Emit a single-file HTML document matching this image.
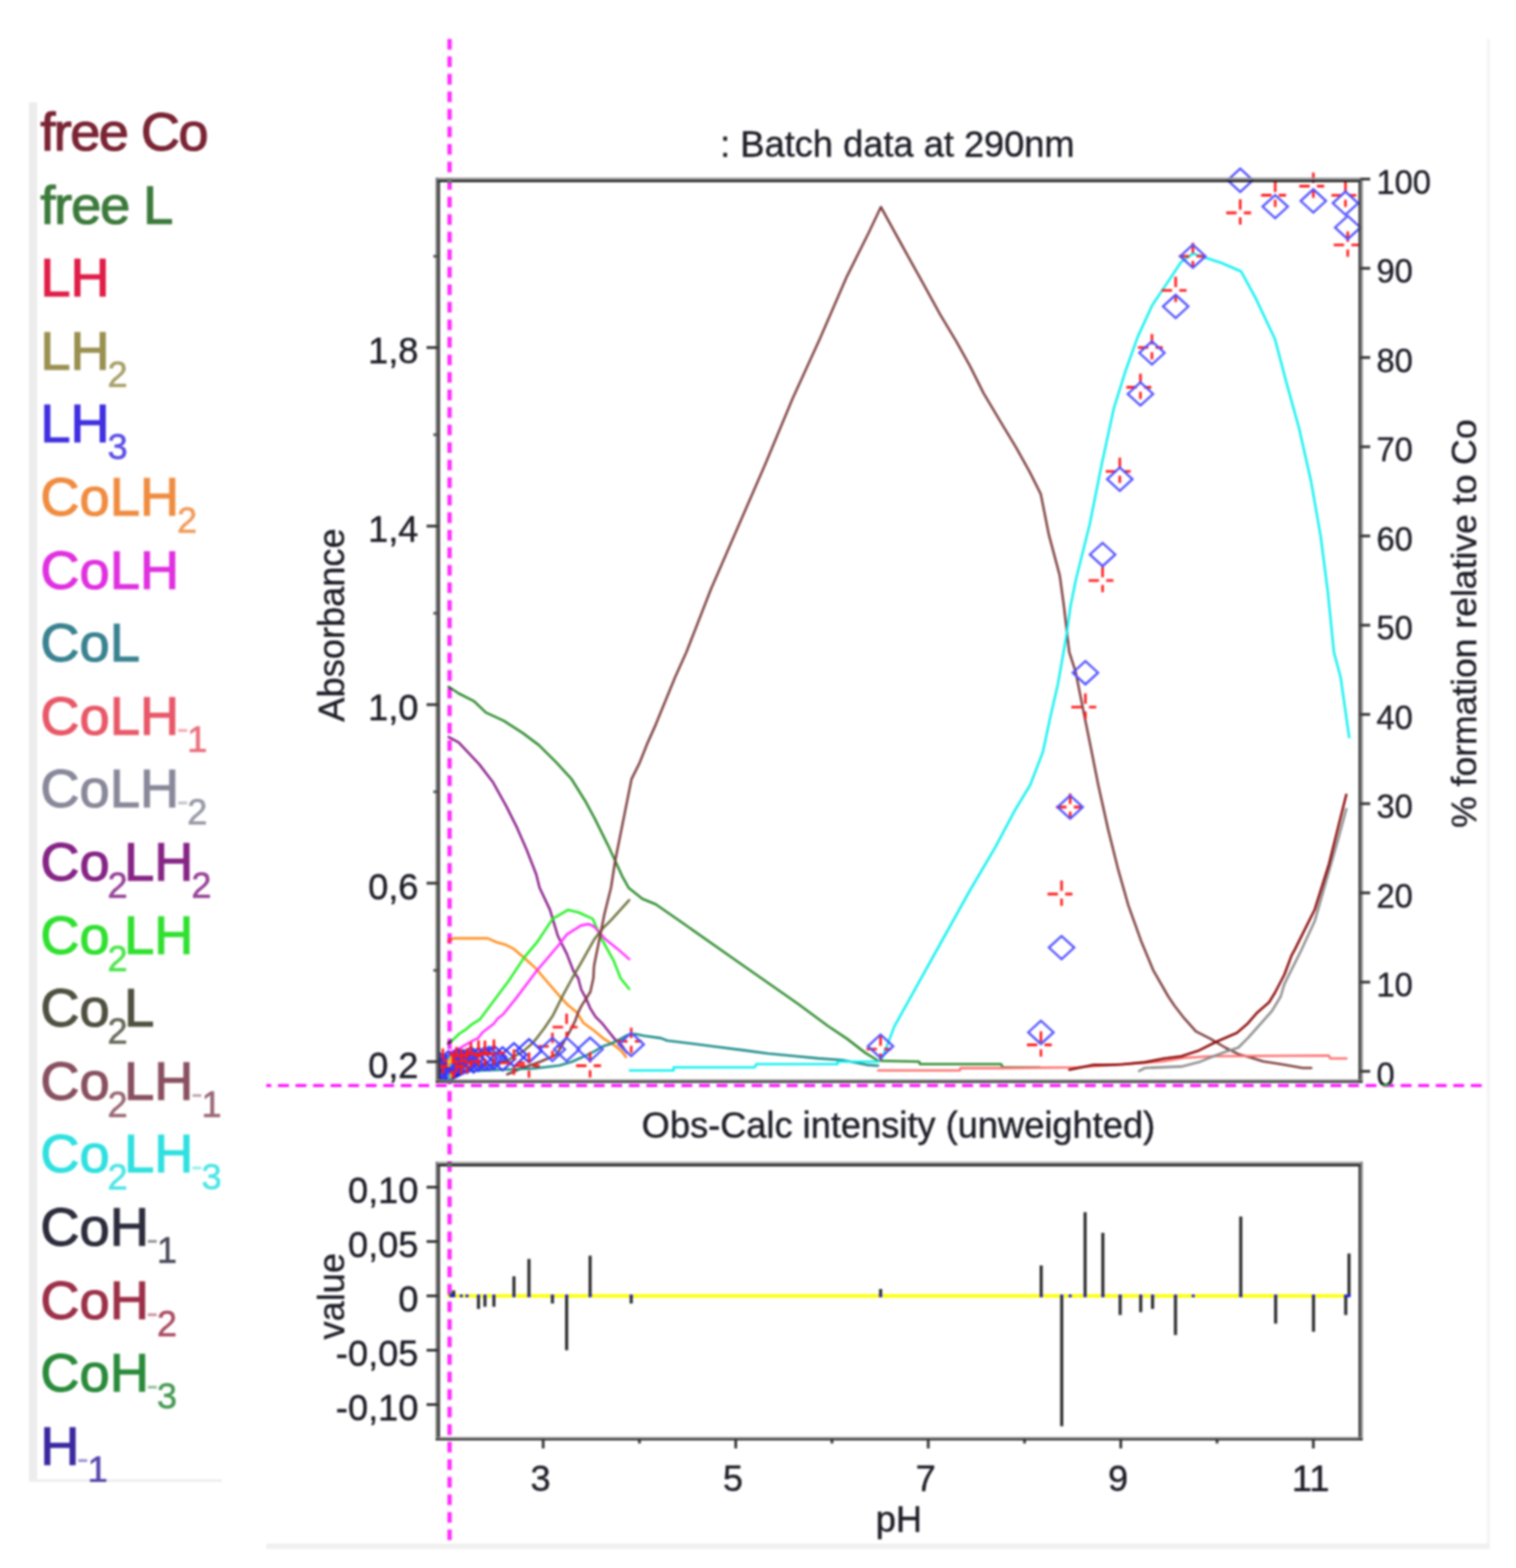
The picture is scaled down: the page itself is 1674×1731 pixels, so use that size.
<!DOCTYPE html>
<html><head><meta charset="utf-8"><title>Batch data at 290nm</title>
<style>html,body{margin:0;padding:0;background:#fff;}body{width:1674px;height:1731px;overflow:hidden;}svg{display:block;filter:blur(0.8px);}text{font-family:"Liberation Sans", Arial, sans-serif;}</style>
</head><body>
<svg width="1674" height="1731" viewBox="0 0 1674 1731">
<rect width="100%" height="100%" fill="#fff"/>
<rect x="1642" y="43" width="3" height="1667" fill="#f3f3f3"/>
<rect x="294" y="1704" width="1351" height="6" fill="#f0f0f0"/>
<defs><clipPath id="legclip"><rect x="32" y="113" width="213" height="1523"/></clipPath></defs>
<rect x="32" y="113" width="9" height="1523" fill="#ececec"/>
<rect x="32" y="1633" width="213" height="3" fill="#eeeeee"/>
<g clip-path="url(#legclip)">
<text x="44.5" y="166.0" fill="#7a2434" stroke="#7a2434" letter-spacing="-1.8"><tspan font-size="60" dy="0" stroke-width="1.2">free Co</tspan></text>
<text x="44.5" y="246.6" fill="#3c7a3c" stroke="#3c7a3c" letter-spacing="-1.3"><tspan font-size="60" dy="0" stroke-width="1.2">free L</tspan></text>
<text x="44.5" y="327.2" fill="#e01e48" stroke="#e01e48"><tspan font-size="60" dy="0" stroke-width="1.2">LH</tspan></text>
<text x="44.5" y="407.8" fill="#9a9050" stroke="#9a9050"><tspan font-size="60" dy="0" stroke-width="1.2">LH</tspan><tspan font-size="40" dy="19" dx="-2.5" fill-opacity="0.85" stroke-width="0.5">2</tspan></text>
<text x="44.5" y="488.4" fill="#4030e0" stroke="#4030e0"><tspan font-size="60" dy="0" stroke-width="1.2">LH</tspan><tspan font-size="40" dy="19" dx="-2.5" fill-opacity="0.85" stroke-width="0.5">3</tspan></text>
<text x="44.5" y="569.0" fill="#f08c40" stroke="#f08c40"><tspan font-size="60" dy="0" stroke-width="1.2">CoLH</tspan><tspan font-size="40" dy="19" dx="-2.5" fill-opacity="0.85" stroke-width="0.5">2</tspan></text>
<text x="44.5" y="649.6" fill="#e030e0" stroke="#e030e0"><tspan font-size="60" dy="0" stroke-width="1.2">CoLH</tspan></text>
<text x="44.5" y="730.2" fill="#3a8290" stroke="#3a8290"><tspan font-size="60" dy="0" stroke-width="1.2">CoL</tspan></text>
<text x="44.5" y="810.8" fill="#e85868" stroke="#e85868"><tspan font-size="60" dy="0" stroke-width="1.2">CoLH</tspan><tspan font-size="40" dy="6" dx="-3" fill-opacity="0.5" stroke-width="0">-</tspan><tspan font-size="40" dy="13" dx="-1.5" fill-opacity="0.85" stroke-width="0.5">1</tspan></text>
<text x="44.5" y="891.4" fill="#88889a" stroke="#88889a"><tspan font-size="60" dy="0" stroke-width="1.2">CoLH</tspan><tspan font-size="40" dy="6" dx="-3" fill-opacity="0.5" stroke-width="0">-</tspan><tspan font-size="40" dy="13" dx="-1.5" fill-opacity="0.85" stroke-width="0.5">2</tspan></text>
<text x="44.5" y="972.0" fill="#862486" stroke="#862486"><tspan font-size="60" dy="0" stroke-width="1.2">Co</tspan><tspan font-size="40" dy="19" dx="-2.5" fill-opacity="0.85" stroke-width="0.5">2</tspan><tspan font-size="60" dy="-19" dx="-4" stroke-width="1.2">LH</tspan><tspan font-size="40" dy="19" dx="-2.5" fill-opacity="0.85" stroke-width="0.5">2</tspan></text>
<text x="44.5" y="1052.6" fill="#30e030" stroke="#30e030"><tspan font-size="60" dy="0" stroke-width="1.2">Co</tspan><tspan font-size="40" dy="19" dx="-2.5" fill-opacity="0.85" stroke-width="0.5">2</tspan><tspan font-size="60" dy="-19" dx="-4" stroke-width="1.2">LH</tspan></text>
<text x="44.5" y="1133.2" fill="#505040" stroke="#505040"><tspan font-size="60" dy="0" stroke-width="1.2">Co</tspan><tspan font-size="40" dy="19" dx="-2.5" fill-opacity="0.85" stroke-width="0.5">2</tspan><tspan font-size="60" dy="-19" dx="-4" stroke-width="1.2">L</tspan></text>
<text x="44.5" y="1213.8" fill="#885060" stroke="#885060"><tspan font-size="60" dy="0" stroke-width="1.2">Co</tspan><tspan font-size="40" dy="19" dx="-2.5" fill-opacity="0.85" stroke-width="0.5">2</tspan><tspan font-size="60" dy="-19" dx="-4" stroke-width="1.2">LH</tspan><tspan font-size="40" dy="6" dx="-3" fill-opacity="0.5" stroke-width="0">-</tspan><tspan font-size="40" dy="13" dx="-1.5" fill-opacity="0.85" stroke-width="0.5">1</tspan></text>
<text x="44.5" y="1294.4" fill="#30e0e0" stroke="#30e0e0"><tspan font-size="60" dy="0" stroke-width="1.2">Co</tspan><tspan font-size="40" dy="19" dx="-2.5" fill-opacity="0.85" stroke-width="0.5">2</tspan><tspan font-size="60" dy="-19" dx="-4" stroke-width="1.2">LH</tspan><tspan font-size="40" dy="6" dx="-3" fill-opacity="0.5" stroke-width="0">-</tspan><tspan font-size="40" dy="13" dx="-1.5" fill-opacity="0.85" stroke-width="0.5">3</tspan></text>
<text x="44.5" y="1375.0" fill="#2c2c3c" stroke="#2c2c3c"><tspan font-size="60" dy="0" stroke-width="1.2">CoH</tspan><tspan font-size="40" dy="6" dx="-3" fill-opacity="0.5" stroke-width="0">-</tspan><tspan font-size="40" dy="13" dx="-1.5" fill-opacity="0.85" stroke-width="0.5">1</tspan></text>
<text x="44.5" y="1455.6" fill="#9c3048" stroke="#9c3048"><tspan font-size="60" dy="0" stroke-width="1.2">CoH</tspan><tspan font-size="40" dy="6" dx="-3" fill-opacity="0.5" stroke-width="0">-</tspan><tspan font-size="40" dy="13" dx="-1.5" fill-opacity="0.85" stroke-width="0.5">2</tspan></text>
<text x="44.5" y="1536.2" fill="#2a8a3a" stroke="#2a8a3a"><tspan font-size="60" dy="0" stroke-width="1.2">CoH</tspan><tspan font-size="40" dy="6" dx="-3" fill-opacity="0.5" stroke-width="0">-</tspan><tspan font-size="40" dy="13" dx="-1.5" fill-opacity="0.85" stroke-width="0.5">3</tspan></text>
<text x="44.5" y="1616.8" fill="#3a28a0" stroke="#3a28a0"><tspan font-size="60" dy="0" stroke-width="1.2">H</tspan><tspan font-size="40" dy="6" dx="-3" fill-opacity="0.5" stroke-width="0">-</tspan><tspan font-size="40" dy="13" dx="-1.5" fill-opacity="0.85" stroke-width="0.5">1</tspan></text>
</g>
<defs><clipPath id="plotclip"><rect x="485.6" y="150" width="1030" height="1042.5"/></clipPath></defs>
<g clip-path="url(#plotclip)">
<g fill="none" stroke-width="2.6" stroke-linejoin="round" stroke-linecap="round">
<polyline stroke="#2c8a2c" points="495.3,758.0 506.5,765.5 523.0,773.8 536.6,786.6 556.1,795.6 577.1,809.1 595.1,822.6 614.7,842.1 631.2,860.2 646.2,884.2 656.7,903.7 671.7,933.8 679.3,950.3 686.8,966.8 694.3,980.3 709.3,992.3 724.0,998.3 755.0,1019.8 818.3,1064.2 881.6,1108.5 914.0,1132.5 935.5,1146.9 955.2,1162.1 969.6,1171.0 1015.0,1172.0 1015.8,1174.7 1105.4,1174.7 1107.2,1178.2 1147.6,1178.2"/>
<polyline stroke="#8a1e8a" points="495.3,813.6 506.5,819.6 529.1,843.6 544.1,863.2 559.1,890.2 571.1,914.2 581.6,938.3 592.1,965.3 595.8,980.0 607.3,1004.4 615.9,1033.0 625.9,1053.1 633.1,1071.8 638.5,1080.0 641.8,1092.5 647.7,1103.4 651.9,1113.4 657.7,1122.6 665.3,1130.2 671.9,1138.5 678.6,1146.9 686.2,1153.6 692.0,1161.9"/>
<polyline stroke="#ff8c1a" points="494.8,1038.8 501.2,1035.9 538.5,1035.9 548.5,1040.2 558.6,1043.1 567.2,1047.4 577.2,1056.0 591.5,1068.9 600.9,1080.0 616.8,1098.4 626.8,1109.3 636.8,1117.6 644.3,1129.3 656.9,1138.5 666.9,1146.9 677.8,1153.6 686.2,1160.3 691.2,1167.0"/>
<polyline stroke="#22f022" points="494.5,1152.0 498.8,1149.4 506.7,1141.5 515.3,1135.8 521.0,1130.8 529.6,1125.7 533.9,1120.0 544.2,1106.2 561.4,1083.2 578.6,1057.4 593.0,1040.2 610.2,1014.4 627.4,1004.4 638.8,1007.2 654.6,1014.4 663.2,1034.5 677.5,1060.3 685.3,1080.0 694.8,1091.8"/>
<polyline stroke="#ff30ff" points="494.5,1162.0 496.6,1161.6 505.2,1158.7 513.8,1153.7 522.4,1148.7 528.2,1145.8 532.5,1140.1 538.9,1135.1 545.4,1130.0 549.7,1124.3 555.4,1120.0 570.0,1101.9 591.5,1073.2 615.9,1044.5 625.9,1031.6 641.7,1021.6 650.3,1020.1 656.0,1023.0 669.0,1037.3 681.8,1047.4 694.8,1058.9"/>
<polyline stroke="#6e6e3c" points="494.5,1179.0 520.0,1177.5 541.1,1175.2 556.9,1171.6 564.0,1168.7 571.2,1164.4 578.4,1160.1 585.5,1153.7 590.0,1149.4 593.3,1145.2 600.9,1135.2 610.1,1121.8 615.1,1111.8 621.8,1098.4 631.8,1080.0 643.1,1060.3 656.0,1037.3 666.1,1024.4 674.7,1015.8 694.8,993.6"/>
<polyline stroke="#7e3e3e" points="560.0,1186.0 566.9,1183.2 574.0,1180.0 590.0,1174.5 596.7,1172.0 606.7,1167.8 615.1,1163.6 621.8,1151.9 626.0,1144.4 630.1,1136.9 635.2,1126.8 638.5,1117.6 641.8,1110.9 651.9,1095.0 655.2,1080.0 656.0,1066.0 661.8,1037.3 667.5,1008.7 671.8,991.5 674.7,980.0 679.3,950.3 685.3,920.2 691.3,890.2 697.3,860.2 706.3,842.1 715.3,819.6 724.0,800.1 745.5,747.5 758.0,719.8 785.0,650.5 815.0,581.4 845.1,512.3 875.1,440.2 905.2,374.2 935.2,305.1 959.2,257.0 972.7,228.5 990.0,260.0 1005.0,287.1 1020.0,314.1 1038.1,347.1 1056.1,377.2 1071.1,404.2 1086.1,434.2 1104.1,464.3 1122.2,494.3 1137.2,521.3 1149.2,545.3 1158.2,590.4 1170.2,635.4 1174.7,668.5 1180.7,719.8 1187.7,741.6 1196.0,783.2 1204.4,824.8 1212.7,866.4 1223.8,916.4 1234.9,960.7 1246.0,999.6 1259.9,1038.4 1273.7,1071.7 1290.0,1100.0 1296.5,1109.7 1307.7,1124.2 1320.6,1138.7 1336.8,1146.8 1352.9,1156.5 1367.4,1163.7 1382.0,1167.7 1394.8,1171.8 1415.8,1175.0 1438.4,1179.0 1448.0,1179.0"/>
<polyline stroke="#1a8a8a" points="494.5,1183.5 540.0,1181.5 590.0,1179.5 617.6,1176.2 631.8,1172.0 646.9,1165.3 656.9,1160.3 665.3,1155.3 675.3,1151.9 685.3,1146.9 692.8,1142.7 701.7,1141.6 711.2,1143.5 730.0,1146.1 736.6,1148.7 765.3,1152.3 792.2,1155.8 820.8,1159.4 847.7,1163.0 876.4,1165.7 903.3,1168.4 930.1,1170.2 957.0,1175.6 969.6,1176.5"/>
<polyline stroke="#10f0f0" points="695.4,1181.8 743.8,1181.8 743.8,1178.2 833.4,1178.2 835.2,1174.7 924.8,1174.7 924.8,1172.0 969.6,1172.0 973.9,1168.9 987.7,1132.9 1015.5,1082.9 1043.2,1033.0 1071.0,983.0 1098.7,935.8 1120.9,894.2 1137.6,866.5 1151.5,830.4 1159.8,791.6 1168.1,755.5 1175.0,716.6 1177.8,700.0 1182.2,668.5 1188.0,640.0 1203.3,578.7 1216.6,512.3 1229.8,451.2 1243.1,408.7 1256.4,371.6 1272.3,337.0 1288.3,313.1 1304.2,289.2 1317.5,279.9 1333.4,285.2 1349.4,290.5 1370.6,299.8 1386.5,329.1 1407.8,374.2 1421.1,424.7 1434.4,472.5 1447.6,530.9 1458.3,592.0 1466.2,653.1 1472.9,719.8 1480.3,747.5 1489.8,814.0"/>
<polyline stroke="#ff7070" points="969.6,1181.8 1059.7,1181.8 1060.6,1179.1 1105.4,1179.1 1189.7,1178.2 1283.5,1171.8 1307.7,1167.7 1340.0,1166.0 1467.4,1165.3 1469.0,1168.5 1486.8,1168.5"/>
<polyline stroke="#8c8c8c" points="1257.7,1182.3 1264.2,1179.0 1304.5,1177.4 1323.9,1172.6 1340.0,1166.0 1352.9,1161.3 1367.4,1156.5 1378.7,1145.2 1391.6,1130.6 1404.5,1116.1 1414.2,1100.0 1418.2,1086.4 1436.4,1050.0 1451.8,1016.7 1477.2,928.0 1486.6,893.2"/>
<polyline stroke="#8c0a0a" points="1180.7,1181.0 1207.6,1175.6 1225.5,1175.6 1240.0,1175.0 1264.2,1172.6 1285.2,1168.5 1304.5,1166.0 1323.9,1159.7 1343.2,1150.0 1365.8,1140.3 1377.1,1130.6 1388.4,1117.7 1401.3,1106.5 1407.8,1096.0 1418.2,1076.0 1426.0,1055.2 1429.7,1048.3 1451.8,1004.0 1467.6,953.3 1486.6,877.3"/>
</g>
<g stroke="#ff1a1a" stroke-width="2.8">
<path d="M610.0 1140.1V1151.6M610.0 1160.1V1168.1M594.5 1155.1H606.0M614.0 1155.1H622.0"/>
<path d="M625.7 1118.9V1130.4M625.7 1138.9V1146.9M610.2 1133.9H621.7M629.7 1133.9H637.7"/>
<path d="M651.6 1161.5V1173.0M651.6 1181.5V1189.5M636.1 1176.5H647.6M655.6 1176.5H663.6"/>
<path d="M697.0 1134.6V1146.1M697.0 1154.6V1162.6M681.5 1149.6H693.0M701.0 1149.6H709.0"/>
<path d="M972.3 1143.1V1154.6M972.3 1163.1V1171.1M956.8 1158.1H968.3M976.3 1158.1H984.3"/>
<path d="M1149.4 1138.5V1150.0M1149.4 1158.5V1166.5M1133.9 1153.5H1145.4M1153.4 1153.5H1161.4"/>
<path d="M1172.2 972.0V983.5M1172.2 992.0V1000.0M1156.7 987.0H1168.2M1176.2 987.0H1184.2"/>
<path d="M1181.7 876.0V887.5M1181.7 896.0V904.0M1166.2 891.0H1177.7M1185.7 891.0H1193.7"/>
<path d="M1198.5 765.6V777.1M1198.5 785.6V793.6M1183.0 780.6H1194.5M1202.5 780.6H1210.5"/>
<path d="M1217.5 625.8V637.3M1217.5 645.8V653.8M1202.0 640.8H1213.5M1221.5 640.8H1229.5"/>
<path d="M1236.5 505.3V516.8M1236.5 525.3V533.3M1221.0 520.3H1232.5M1240.5 520.3H1248.5"/>
<path d="M1259.3 412.5V424.0M1259.3 432.5V440.5M1243.8 427.5H1255.3M1263.3 427.5H1271.3"/>
<path d="M1272.0 368.7V380.2M1272.0 388.7V396.7M1256.5 383.7H1268.0M1276.0 383.7H1284.0"/>
<path d="M1298.2 305.6V317.1M1298.2 325.6V333.6M1282.7 320.6H1294.2M1302.2 320.6H1310.2"/>
<path d="M1317.2 267.9V279.4M1317.2 287.9V295.9M1301.7 282.9H1313.2M1321.2 282.9H1329.2"/>
<path d="M1369.5 220.0V231.5M1369.5 240.0V248.0M1354.0 235.0H1365.5M1373.5 235.0H1381.5"/>
<path d="M1408.1 200.5V212.0M1408.1 220.5V228.5M1392.6 215.5H1404.1M1412.1 215.5H1420.1"/>
<path d="M1450.2 190.5V202.0M1450.2 210.5V218.5M1434.7 205.5H1446.2M1454.2 205.5H1462.2"/>
<path d="M1485.7 200.6V212.1M1485.7 220.6V228.6M1470.2 215.6H1481.7M1489.7 215.6H1497.7"/>
<path d="M1488.2 255.4V266.9M1488.2 275.4V283.4M1472.7 270.4H1484.2M1492.2 270.4H1500.2"/>
</g>
<g fill="none" stroke="#5050ff" stroke-width="2.4">
<path d="M610.0 1145.7L624.0 1158.5L610.0 1171.3L596.0 1158.5Z"/>
<path d="M625.7 1145.7L639.7 1158.5L625.7 1171.3L611.7 1158.5Z"/>
<path d="M651.6 1145.5L665.6 1158.3L651.6 1171.1L637.6 1158.3Z"/>
<path d="M697.0 1140.2L711.0 1153.0L697.0 1165.8L683.0 1153.0Z"/>
<path d="M972.3 1142.2L986.3 1155.0L972.3 1167.8L958.3 1155.0Z"/>
<path d="M1149.4 1126.9L1163.4 1139.7L1149.4 1152.5L1135.4 1139.7Z"/>
<path d="M1172.2 1033.3L1186.2 1046.1L1172.2 1058.9L1158.2 1046.1Z"/>
<path d="M1181.7 878.2L1195.7 891.0L1181.7 903.8L1167.7 891.0Z"/>
<path d="M1198.5 729.9L1212.5 742.7L1198.5 755.5L1184.5 742.7Z"/>
<path d="M1217.5 599.4L1231.5 612.2L1217.5 625.0L1203.5 612.2Z"/>
<path d="M1236.5 516.2L1250.5 529.0L1236.5 541.8L1222.5 529.0Z"/>
<path d="M1259.3 422.1L1273.3 434.9L1259.3 447.7L1245.3 434.9Z"/>
<path d="M1272.0 376.8L1286.0 389.6L1272.0 402.4L1258.0 389.6Z"/>
<path d="M1298.2 325.5L1312.2 338.3L1298.2 351.1L1284.2 338.3Z"/>
<path d="M1317.2 270.1L1331.2 282.9L1317.2 295.7L1303.2 282.9Z"/>
<path d="M1369.5 186.2L1383.5 199.0L1369.5 211.8L1355.5 199.0Z"/>
<path d="M1408.1 215.3L1422.1 228.1L1408.1 240.9L1394.1 228.1Z"/>
<path d="M1450.2 209.0L1464.2 221.8L1450.2 234.6L1436.2 221.8Z"/>
<path d="M1485.7 211.5L1499.7 224.3L1485.7 237.1L1471.7 224.3Z"/>
<path d="M1488.2 238.4L1502.2 251.2L1488.2 264.0L1474.2 251.2Z"/>
</g>
<path d="M484 1168 L500 1163 L512 1166 L512 1186 L500 1192 L484 1192 Z" fill="#1a1ad8"/>
<g fill="none" stroke="#3a3aff" stroke-width="2.4">
<path d="M486.0 1163.0L500.0 1175.8L486.0 1188.6L472.0 1175.8Z"/>
<path d="M489.0 1164.7L503.0 1177.5L489.0 1190.3L475.0 1177.5Z"/>
<path d="M492.0 1163.8L506.0 1176.6L492.0 1189.4L478.0 1176.6Z"/>
<path d="M495.0 1160.7L509.0 1173.5L495.0 1186.3L481.0 1173.5Z"/>
<path d="M498.0 1163.0L512.0 1175.8L498.0 1188.6L484.0 1175.8Z"/>
<path d="M501.0 1162.3L515.0 1175.1L501.0 1187.9L487.0 1175.1Z"/>
<path d="M504.0 1158.8L518.0 1171.6L504.0 1184.4L490.0 1171.6Z"/>
<path d="M506.0 1158.5L520.0 1171.3L506.0 1184.1L492.0 1171.3Z"/>
<path d="M509.4 1160.3L523.4 1173.1L509.4 1185.9L495.4 1173.1Z"/>
<path d="M512.0 1159.3L526.0 1172.1L512.0 1184.9L498.0 1172.1Z"/>
<path d="M515.7 1159.1L529.7 1171.9L515.7 1184.7L501.7 1171.9Z"/>
<path d="M520.0 1155.9L534.0 1168.7L520.0 1181.5L506.0 1168.7Z"/>
<path d="M523.0 1158.4L537.0 1171.2L523.0 1184.0L509.0 1171.2Z"/>
<path d="M528.4 1156.7L542.4 1169.5L528.4 1182.3L514.4 1169.5Z"/>
<path d="M535.5 1155.8L549.5 1168.6L535.5 1181.4L521.5 1168.6Z"/>
<path d="M540.0 1155.7L554.0 1168.5L540.0 1181.3L526.0 1168.5Z"/>
<path d="M545.4 1154.5L559.4 1167.3L545.4 1180.1L531.4 1167.3Z"/>
<path d="M555.0 1156.1L569.0 1168.9L555.0 1181.7L541.0 1168.9Z"/>
<path d="M567.5 1151.7L581.5 1164.5L567.5 1177.3L553.5 1164.5Z"/>
<path d="M584.1 1147.2L598.1 1160.0L584.1 1172.8L570.1 1160.0Z"/>
</g>
<g stroke="#ff1a1a" stroke-width="2.8">
<path d="M498.0 1162.2V1173.7M498.0 1182.2V1190.2M482.5 1177.2H494.0M502.0 1177.2H510.0"/>
<path d="M501.0 1162.0V1173.5M501.0 1182.0V1190.0M485.5 1177.0H497.0M505.0 1177.0H513.0"/>
<path d="M509.4 1158.1V1169.6M509.4 1178.1V1186.1M493.9 1173.1H505.4M513.4 1173.1H521.4"/>
<path d="M515.7 1156.9V1168.4M515.7 1176.9V1184.9M500.2 1171.9H511.7M519.7 1171.9H527.7"/>
<path d="M528.4 1148.6V1160.1M528.4 1168.6V1176.6M512.9 1163.6H524.4M532.4 1163.6H540.4"/>
<path d="M535.5 1148.7V1160.2M535.5 1168.7V1176.7M520.0 1163.7H531.5M539.5 1163.7H547.5"/>
<path d="M545.4 1147.4V1158.9M545.4 1167.4V1175.4M529.9 1162.4H541.4M549.4 1162.4H557.4"/>
<path d="M567.5 1158.4V1169.9M567.5 1178.4V1186.4M552.0 1173.4H563.5M571.5 1173.4H579.5"/>
<path d="M584.1 1161.7V1173.2M584.1 1181.7V1189.7M568.6 1176.7H580.1M588.1 1176.7H596.1"/>
<path d="M489.0 1157.5V1169.0M489.0 1177.5V1185.5M473.5 1172.5H485.0M493.0 1172.5H501.0"/>
<path d="M504.0 1155.8V1167.3M504.0 1175.8V1183.8M488.5 1170.8H500.0M508.0 1170.8H516.0"/>
<path d="M520.0 1150.5V1162.0M520.0 1170.5V1178.5M504.5 1165.5H516.0M524.0 1165.5H532.0"/>
</g>
</g>
<line x1="494" y1="1430.6" x2="1489" y2="1430.6" stroke="#ffff00" stroke-width="3.6"/>
<g stroke="#2a2a2a" stroke-width="3.4">
<line x1="498" y1="1430.6" x2="498" y2="1427.0"/>
<line x1="501" y1="1430.6" x2="501" y2="1424.6"/>
<line x1="528.4" y1="1430.6" x2="528.4" y2="1445.0"/>
<line x1="535.5" y1="1430.6" x2="535.5" y2="1442.6"/>
<line x1="545.4" y1="1430.6" x2="545.4" y2="1442.6"/>
<line x1="567.5" y1="1430.6" x2="567.5" y2="1409.0"/>
<line x1="584.1" y1="1430.6" x2="584.1" y2="1389.8"/>
<line x1="610" y1="1430.6" x2="610" y2="1439.0"/>
<line x1="625.7" y1="1430.6" x2="625.7" y2="1490.6"/>
<line x1="651.6" y1="1430.6" x2="651.6" y2="1386.2"/>
<line x1="697" y1="1430.6" x2="697" y2="1439.0"/>
<line x1="972.4" y1="1430.6" x2="972.4" y2="1423.0"/>
<line x1="1149.7" y1="1430.6" x2="1149.7" y2="1397.0"/>
<line x1="1172.4" y1="1430.6" x2="1172.4" y2="1574.6"/>
<line x1="1198.2" y1="1430.6" x2="1198.2" y2="1338.2"/>
<line x1="1217.8" y1="1430.6" x2="1217.8" y2="1361.0"/>
<line x1="1236.9" y1="1430.6" x2="1236.9" y2="1451.7"/>
<line x1="1259.6" y1="1430.6" x2="1259.6" y2="1448.6"/>
<line x1="1272.7" y1="1430.6" x2="1272.7" y2="1445.0"/>
<line x1="1298" y1="1430.6" x2="1298" y2="1473.8"/>
<line x1="1370.1" y1="1430.6" x2="1370.1" y2="1343.0"/>
<line x1="1408.6" y1="1430.6" x2="1408.6" y2="1461.2"/>
<line x1="1450.4" y1="1430.6" x2="1450.4" y2="1470.2"/>
<line x1="1486" y1="1430.6" x2="1486" y2="1451.7"/>
<line x1="1489.6" y1="1430.6" x2="1489.6" y2="1383.8"/>
</g>
<g fill="#1010ff">
<rect x="496.4" y="1429.1" width="3.2" height="3"/>
<rect x="499.4" y="1429.1" width="3.2" height="3"/>
<rect x="507.8" y="1429.1" width="3.2" height="3"/>
<rect x="514.1" y="1429.1" width="3.2" height="3"/>
<rect x="526.8" y="1429.1" width="3.2" height="3"/>
<rect x="533.9" y="1429.1" width="3.2" height="3"/>
<rect x="543.8" y="1429.1" width="3.2" height="3"/>
<rect x="565.9" y="1429.1" width="3.2" height="3"/>
<rect x="582.5" y="1429.1" width="3.2" height="3"/>
<rect x="608.4" y="1429.1" width="3.2" height="3"/>
<rect x="624.1" y="1429.1" width="3.2" height="3"/>
<rect x="650.0" y="1429.1" width="3.2" height="3"/>
<rect x="695.4" y="1429.1" width="3.2" height="3"/>
<rect x="970.8" y="1429.1" width="3.2" height="3"/>
<rect x="1148.1" y="1429.1" width="3.2" height="3"/>
<rect x="1170.8" y="1429.1" width="3.2" height="3"/>
<rect x="1180.1" y="1429.1" width="3.2" height="3"/>
<rect x="1196.6" y="1429.1" width="3.2" height="3"/>
<rect x="1216.2" y="1429.1" width="3.2" height="3"/>
<rect x="1235.3" y="1429.1" width="3.2" height="3"/>
<rect x="1258.0" y="1429.1" width="3.2" height="3"/>
<rect x="1271.1" y="1429.1" width="3.2" height="3"/>
<rect x="1296.4" y="1429.1" width="3.2" height="3"/>
<rect x="1316.0" y="1429.1" width="3.2" height="3"/>
<rect x="1368.5" y="1429.1" width="3.2" height="3"/>
<rect x="1407.0" y="1429.1" width="3.2" height="3"/>
<rect x="1448.8" y="1429.1" width="3.2" height="3"/>
<rect x="1484.4" y="1429.1" width="3.2" height="3"/>
<rect x="1488.0" y="1429.1" width="3.2" height="3"/>
</g>
<rect x="480.8" y="196.1" width="1024.2" height="1000.0" fill="none" stroke="#8a8a8a" stroke-width="0"/>
<rect x="481.0" y="196.1" width="1023.6" height="2.5" fill="#9a9a9a"/>
<rect x="481.0" y="196.1" width="2.4" height="999.2" fill="#7a7a7a"/>
<rect x="483.4" y="198.6" width="1019.0" height="2.5" fill="#1c1c1c"/>
<rect x="483.4" y="198.6" width="2.4" height="994.8" fill="#2e2e2e"/>
<rect x="1500.1" y="198.6" width="2.3" height="996.6" fill="#2e2e2e"/>
<rect x="1502.4" y="196.1" width="2.3" height="999.2" fill="#7a7a7a"/>
<rect x="481.0" y="1191.7" width="1023.7" height="1.8" fill="#8a8a8a"/>
<rect x="481.0" y="1193.5" width="1023.7" height="1.8" fill="#1c1c1c"/>
<rect x="480.8" y="1282.6" width="1024.2" height="308.3" fill="none" stroke="#8a8a8a" stroke-width="0"/>
<rect x="481.0" y="1282.6" width="1023.6" height="2.5" fill="#9a9a9a"/>
<rect x="481.0" y="1282.6" width="2.4" height="307.5" fill="#7a7a7a"/>
<rect x="483.4" y="1285.1" width="1019.0" height="2.5" fill="#1c1c1c"/>
<rect x="483.4" y="1285.1" width="2.4" height="303.1" fill="#2e2e2e"/>
<rect x="1500.1" y="1285.1" width="2.3" height="304.9" fill="#2e2e2e"/>
<rect x="1502.4" y="1282.6" width="2.3" height="307.5" fill="#7a7a7a"/>
<rect x="481.0" y="1586.5" width="1023.7" height="1.8" fill="#8a8a8a"/>
<rect x="481.0" y="1588.3" width="1023.7" height="1.8" fill="#1c1c1c"/>
<g stroke="#333" stroke-width="3">
<line x1="471" y1="383.7" x2="483.4" y2="383.7"/>
<line x1="471" y1="580.8" x2="483.4" y2="580.8"/>
<line x1="471" y1="777.9" x2="483.4" y2="777.9"/>
<line x1="471" y1="975.0" x2="483.4" y2="975.0"/>
<line x1="471" y1="1172.1" x2="483.4" y2="1172.1"/>
<line x1="478.5" y1="282.9" x2="483.4" y2="282.9" stroke="#505050"/>
<line x1="478.5" y1="479.9" x2="483.4" y2="479.9" stroke="#505050"/>
<line x1="478.5" y1="677.0" x2="483.4" y2="677.0" stroke="#505050"/>
<line x1="478.5" y1="874.1" x2="483.4" y2="874.1" stroke="#505050"/>
<line x1="478.5" y1="1071.2" x2="483.4" y2="1071.2" stroke="#505050"/>
<line x1="1502.4" y1="197.7" x2="1513" y2="197.7"/>
<line x1="1502.4" y1="296.2" x2="1513" y2="296.2"/>
<line x1="1502.4" y1="394.7" x2="1513" y2="394.7"/>
<line x1="1502.4" y1="493.2" x2="1513" y2="493.2"/>
<line x1="1502.4" y1="591.7" x2="1513" y2="591.7"/>
<line x1="1502.4" y1="690.2" x2="1513" y2="690.2"/>
<line x1="1502.4" y1="788.7" x2="1513" y2="788.7"/>
<line x1="1502.4" y1="887.2" x2="1513" y2="887.2"/>
<line x1="1502.4" y1="985.7" x2="1513" y2="985.7"/>
<line x1="1502.4" y1="1084.2" x2="1513" y2="1084.2"/>
<line x1="1502.4" y1="1182.7" x2="1513" y2="1182.7"/>
<line x1="471" y1="1310.6" x2="483.4" y2="1310.6"/>
<line x1="471" y1="1370.6" x2="483.4" y2="1370.6"/>
<line x1="471" y1="1430.6" x2="483.4" y2="1430.6"/>
<line x1="471" y1="1490.6" x2="483.4" y2="1490.6"/>
<line x1="471" y1="1550.6" x2="483.4" y2="1550.6"/>
<line x1="599.8" y1="1588.3" x2="599.8" y2="1599"/>
<line x1="812.4" y1="1588.3" x2="812.4" y2="1599"/>
<line x1="1025.0" y1="1588.3" x2="1025.0" y2="1599"/>
<line x1="1237.6" y1="1588.3" x2="1237.6" y2="1599"/>
<line x1="1450.2" y1="1588.3" x2="1450.2" y2="1599"/>
<line x1="706.1" y1="1588.3" x2="706.1" y2="1593.5"/>
<line x1="918.7" y1="1588.3" x2="918.7" y2="1593.5"/>
<line x1="1131.3" y1="1588.3" x2="1131.3" y2="1593.5"/>
<line x1="1343.9" y1="1588.3" x2="1343.9" y2="1593.5"/>
</g>
<g font-size="40" fill="#1e1e28" stroke="#1e1e28" stroke-width="0.45" text-anchor="end">
<text x="462" y="401.2">1,8</text>
<text x="462" y="598.3">1,4</text>
<text x="462" y="795.4">1,0</text>
<text x="462" y="992.5">0,6</text>
<text x="462" y="1189.6">0,2</text>
<text x="462" y="1328.1">0,10</text>
<text x="462" y="1388.1">0,05</text>
<text x="462" y="1448.1">0</text>
<text x="462" y="1508.1">-0,05</text>
<text x="462" y="1568.1">-0,10</text>
</g>
<g font-size="36" fill="#1e1e28" stroke="#1e1e28" stroke-width="0.4">
<text x="1520" y="213.7">100</text>
<text x="1520" y="312.2">90</text>
<text x="1520" y="410.7">80</text>
<text x="1520" y="509.2">70</text>
<text x="1520" y="607.7">60</text>
<text x="1520" y="706.2">50</text>
<text x="1520" y="804.7">40</text>
<text x="1520" y="903.2">30</text>
<text x="1520" y="1001.7">20</text>
<text x="1520" y="1100.2">10</text>
<text x="1520" y="1198.7">0</text>
</g>
<g font-size="40" fill="#1e1e28" stroke="#1e1e28" stroke-width="0.45" text-anchor="middle">
<text x="596.8" y="1645.5">3</text>
<text x="809.4" y="1645.5">5</text>
<text x="1022.0" y="1645.5">7</text>
<text x="1234.6" y="1645.5">9</text>
<text x="1447.2" y="1645.5">11</text>
<text x="992.5" y="1690.5">pH</text>
<text x="991" y="172.5">: Batch data at 290nm</text>
<text x="992" y="1256">Obs-Calc intensity (unweighted)</text>
<text transform="translate(379.5 690) rotate(-90)">Absorbance</text>
<text transform="translate(379.5 1431) rotate(-90)">value</text>
<text font-size="39.2" transform="translate(1630 688.5) rotate(-90)">% formation relative to Co</text>
</g>
<g style="mix-blend-mode:difference">
<line x1="496.4" y1="42.9" x2="496.4" y2="1701" stroke="#00d000" stroke-width="4.8" stroke-dasharray="11.8 7.56"/>
<line x1="294" y1="1198.4" x2="1637.5" y2="1198.4" stroke="#00f000" stroke-width="3.4" stroke-dasharray="12 7.37" stroke-dashoffset="6.4"/>
</g>
</svg>
</body></html>
